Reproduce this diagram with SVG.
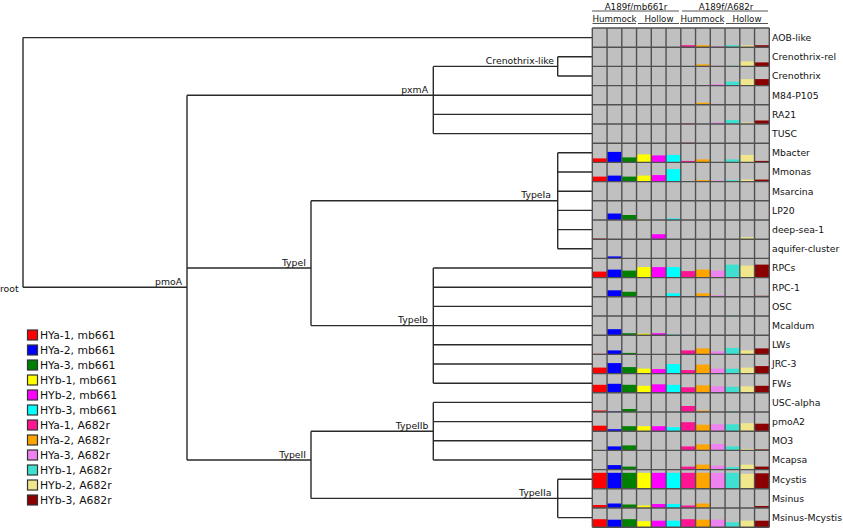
<svg xmlns="http://www.w3.org/2000/svg" width="843" height="528" viewBox="0 0 843 528">
<style>
text{font-family:"DejaVu Sans",sans-serif;fill:#111}
.lab{font-size:9.3px}
.hdr{font-size:8.7px;text-anchor:middle}
.nl{font-size:9.3px;text-anchor:end}
.leg{font-size:10.8px}
.tree path{fill:none;stroke:#2a2a2a;stroke-width:1.4}
.hl{stroke:#555;stroke-width:1.2}
.grid line{stroke:#505050;stroke-width:1.4}
.legsq{stroke:#333;stroke-width:1.2}
.c1{fill:#ff0000}.c2{fill:#0000ff}.c3{fill:#008000}.c4{fill:#ffff00}.c5{fill:#ff00ff}.c6{fill:#00ffff}
.c7{fill:#ff1493}.c8{fill:#ffa500}.c9{fill:#ee82ee}.c10{fill:#40e0d0}.c11{fill:#f0e68c}.c12{fill:#8b0000}
</style>

<g id="header">
<text class="hdr" x="636" y="9.5">A189f/mb661r</text>
<text class="hdr" x="726" y="9.5">A189f/A682r</text>
<line class="hl" x1="592" y1="11" x2="679" y2="11"/>
<line class="hl" x1="682" y1="11" x2="768" y2="11"/>
<text class="hdr" x="614.5" y="21.5">Hummock</text>
<text class="hdr" x="659" y="21.5">Hollow</text>
<text class="hdr" x="702.5" y="21.5">Hummock</text>
<text class="hdr" x="747" y="21.5">Hollow</text>
<line class="hl" x1="592.5" y1="23.5" x2="636" y2="23.5"/>
<line class="hl" x1="638" y1="23.5" x2="679" y2="23.5"/>
<line class="hl" x1="680" y1="23.5" x2="724" y2="23.5"/>
<line class="hl" x1="726" y1="23.5" x2="768" y2="23.5"/>
</g>

<g id="connectors" class="tree">
<path d="M23,37.6V287.2M23,37.6H592.3M23,287.2H187"/>
<path d="M187,95.2V460M187,95.2H433.3M187,268H311M187,460H311"/>
<path d="M433.3,66.4V133.6M433.3,66.4H557.7M433.3,95.2H592.3M433.3,114.4H592.3M433.3,133.6H592.3"/>
<path d="M557.7,56.8V76M557.7,56.8H592.3M557.7,76H592.3"/>
<path d="M311,200.8V325.6M311,200.8H557.7M311,325.6H433.3"/>
<path d="M557.7,152.8V248.8M557.7,152.8H592.3M557.7,172H592.3M557.7,191.2H592.3M557.7,210.4H592.3M557.7,229.6H592.3M557.7,248.8H592.3"/>
<path d="M433.3,268V383.2M433.3,268H592.3M433.3,287.2H592.3M433.3,306.4H592.3M433.3,325.6H592.3M433.3,344.8H592.3M433.3,364H592.3M433.3,383.2H592.3"/>
<path d="M311,431.2V498.4M311,431.2H433.3M311,498.4H557.7"/>
<path d="M433.3,402.4V460M433.3,402.4H592.3M433.3,421.6H592.3M433.3,440.8H592.3M433.3,460H592.3"/>
<path d="M557.7,479.2V517.6M557.7,479.2H592.3M557.7,498.4H592.3M557.7,517.6H592.3"/>
</g>

<g id="internal-nodes">
<g id="n-root"><text class="lab" x="0" y="291.5">root</text></g>
<g id="n-pmoA"><text class="nl" x="182" y="284.5">pmoA</text></g>
<g id="n-pxmA"><text class="nl" x="428" y="92.8">pxmA</text></g>
<g id="n-crenolike"><text class="nl" x="554" y="64">Crenothrix-like</text></g>
<g id="n-TypeI"><text class="nl" x="306" y="265.5">TypeI</text></g>
<g id="n-TypeIa"><text class="nl" x="551" y="198.3">TypeIa</text></g>
<g id="n-TypeIb"><text class="nl" x="428" y="323">TypeIb</text></g>
<g id="n-TypeII"><text class="nl" x="306" y="457.5">TypeII</text></g>
<g id="n-TypeIIb"><text class="nl" x="428.5" y="428.5">TypeIIb</text></g>
<g id="n-TypeIIa"><text class="nl" x="551.5" y="495.5">TypeIIa</text></g>
</g>

<g id="heatmap">
<rect x="592.3" y="28" width="177" height="499.2" fill="#c0c0c0"/>
<g id="bars">
<rect class="c7" x="680.8" y="45.2" width="14.75" height="2"/><rect class="c8" x="695.55" y="45.2" width="14.75" height="2"/><rect class="c9" x="710.3" y="46.2" width="14.75" height="1"/><rect class="c10" x="725.05" y="45.2" width="14.75" height="2"/><rect class="c11" x="739.8" y="45.4" width="14.75" height="1.8"/><rect class="c12" x="754.55" y="45.2" width="14.75" height="2"/>
<rect class="c8" x="695.55" y="64.4" width="14.75" height="2"/><rect class="c9" x="710.3" y="65.8" width="14.75" height="0.6"/><rect class="c10" x="725.05" y="65.8" width="14.75" height="0.6"/><rect class="c11" x="739.8" y="61.4" width="14.75" height="5"/><rect class="c12" x="754.55" y="62.4" width="14.75" height="4"/>
<rect class="c7" x="680.8" y="85" width="14.75" height="0.6"/><rect class="c9" x="710.3" y="84.1" width="14.75" height="1.5"/><rect class="c10" x="725.05" y="81.6" width="14.75" height="4"/><rect class="c11" x="739.8" y="79.1" width="14.75" height="6.5"/><rect class="c12" x="754.55" y="79.1" width="14.75" height="6.5"/>
<rect class="c7" x="680.8" y="104.2" width="14.75" height="0.6"/><rect class="c8" x="695.55" y="102.8" width="14.75" height="2"/><rect class="c9" x="710.3" y="103.8" width="14.75" height="1"/>
<rect class="c7" x="680.8" y="123.4" width="14.75" height="0.6"/><rect class="c9" x="710.3" y="122.5" width="14.75" height="1.5"/><rect class="c10" x="725.05" y="120" width="14.75" height="4"/><rect class="c11" x="739.8" y="122.5" width="14.75" height="1.5"/><rect class="c12" x="754.55" y="120.5" width="14.75" height="3.5"/>
<rect class="c7" x="680.8" y="142.6" width="14.75" height="0.6"/>
<rect class="c1" x="592.3" y="158.4" width="14.75" height="4"/><rect class="c2" x="607.05" y="151.9" width="14.75" height="10.5"/><rect class="c3" x="621.8" y="157.4" width="14.75" height="5"/><rect class="c4" x="636.55" y="154.4" width="14.75" height="8"/><rect class="c5" x="651.3" y="155.4" width="14.75" height="7"/><rect class="c6" x="666.05" y="154.9" width="14.75" height="7.5"/><rect class="c7" x="680.8" y="160.9" width="14.75" height="1.5"/><rect class="c8" x="695.55" y="159.4" width="14.75" height="3"/><rect class="c10" x="725.05" y="159.4" width="14.75" height="3"/><rect class="c11" x="739.8" y="154.9" width="14.75" height="7.5"/><rect class="c12" x="754.55" y="160.9" width="14.75" height="1.5"/>
<rect class="c1" x="592.3" y="176.6" width="14.75" height="5"/><rect class="c2" x="607.05" y="175.6" width="14.75" height="6"/><rect class="c3" x="621.8" y="176.6" width="14.75" height="5"/><rect class="c4" x="636.55" y="175.6" width="14.75" height="6"/><rect class="c5" x="651.3" y="175.1" width="14.75" height="6.5"/><rect class="c6" x="666.05" y="169.1" width="14.75" height="12.5"/><rect class="c7" x="680.8" y="181" width="14.75" height="0.6"/><rect class="c8" x="695.55" y="180.1" width="14.75" height="1.5"/><rect class="c9" x="710.3" y="180.6" width="14.75" height="1"/><rect class="c10" x="725.05" y="180.1" width="14.75" height="1.5"/><rect class="c11" x="739.8" y="179.6" width="14.75" height="2"/><rect class="c12" x="754.55" y="179.6" width="14.75" height="2"/>
<rect class="c2" x="607.05" y="200.2" width="14.75" height="0.6"/><rect class="c3" x="621.8" y="200.2" width="14.75" height="0.6"/><rect class="c6" x="666.05" y="200.2" width="14.75" height="0.6"/>
<rect class="c2" x="607.05" y="213.5" width="14.75" height="6.5"/><rect class="c3" x="621.8" y="215" width="14.75" height="5"/><rect class="c4" x="636.55" y="219.4" width="14.75" height="0.6"/><rect class="c6" x="666.05" y="218.5" width="14.75" height="1.5"/>
<rect class="c1" x="592.3" y="238.6" width="14.75" height="0.6"/><rect class="c5" x="651.3" y="234.2" width="14.75" height="5"/><rect class="c11" x="739.8" y="237.2" width="14.75" height="2"/>
<rect class="c2" x="607.05" y="256.4" width="14.75" height="2"/>
<rect class="c1" x="592.3" y="271.6" width="14.75" height="6"/><rect class="c2" x="607.05" y="269.6" width="14.75" height="8"/><rect class="c3" x="621.8" y="270.6" width="14.75" height="7"/><rect class="c4" x="636.55" y="267.1" width="14.75" height="10.5"/><rect class="c5" x="651.3" y="267.1" width="14.75" height="10.5"/><rect class="c6" x="666.05" y="267.1" width="14.75" height="10.5"/><rect class="c7" x="680.8" y="271.1" width="14.75" height="6.5"/><rect class="c8" x="695.55" y="269.6" width="14.75" height="8"/><rect class="c9" x="710.3" y="270.6" width="14.75" height="7"/><rect class="c10" x="725.05" y="264.6" width="14.75" height="13"/><rect class="c11" x="739.8" y="265.6" width="14.75" height="12"/><rect class="c12" x="754.55" y="264.6" width="14.75" height="13"/>
<rect class="c1" x="592.3" y="296.2" width="14.75" height="0.6"/><rect class="c2" x="607.05" y="290.3" width="14.75" height="6.5"/><rect class="c3" x="621.8" y="291.8" width="14.75" height="5"/><rect class="c6" x="666.05" y="293.3" width="14.75" height="3.5"/><rect class="c8" x="695.55" y="293.3" width="14.75" height="3.5"/><rect class="c9" x="710.3" y="295.3" width="14.75" height="1.5"/><rect class="c12" x="754.55" y="295.8" width="14.75" height="1"/>
<rect class="c10" x="725.05" y="315.4" width="14.75" height="0.6"/>
<rect class="c2" x="607.05" y="329.2" width="14.75" height="6"/><rect class="c3" x="621.8" y="333.2" width="14.75" height="2"/><rect class="c4" x="636.55" y="333.7" width="14.75" height="1.5"/><rect class="c5" x="651.3" y="333.2" width="14.75" height="2"/><rect class="c6" x="666.05" y="334.6" width="14.75" height="0.6"/>
<rect class="c1" x="592.3" y="353.8" width="14.75" height="0.6"/><rect class="c2" x="607.05" y="350.4" width="14.75" height="4"/><rect class="c3" x="621.8" y="352.9" width="14.75" height="1.5"/><rect class="c7" x="680.8" y="350.4" width="14.75" height="4"/><rect class="c8" x="695.55" y="348.4" width="14.75" height="6"/><rect class="c9" x="710.3" y="351.4" width="14.75" height="3"/><rect class="c10" x="725.05" y="347.9" width="14.75" height="6.5"/><rect class="c11" x="739.8" y="350.4" width="14.75" height="4"/><rect class="c12" x="754.55" y="348.4" width="14.75" height="6"/>
<rect class="c1" x="592.3" y="367.6" width="14.75" height="6"/><rect class="c2" x="607.05" y="363.1" width="14.75" height="10.5"/><rect class="c3" x="621.8" y="367.1" width="14.75" height="6.5"/><rect class="c4" x="636.55" y="368.6" width="14.75" height="5"/><rect class="c5" x="651.3" y="369.1" width="14.75" height="4.5"/><rect class="c6" x="666.05" y="364.1" width="14.75" height="9.5"/><rect class="c7" x="680.8" y="370.1" width="14.75" height="3.5"/><rect class="c8" x="695.55" y="364.6" width="14.75" height="9"/><rect class="c9" x="710.3" y="368.6" width="14.75" height="5"/><rect class="c10" x="725.05" y="368.6" width="14.75" height="5"/><rect class="c11" x="739.8" y="367.6" width="14.75" height="6"/><rect class="c12" x="754.55" y="366.1" width="14.75" height="7.5"/>
<rect class="c1" x="592.3" y="384.8" width="14.75" height="8"/><rect class="c2" x="607.05" y="383.8" width="14.75" height="9"/><rect class="c3" x="621.8" y="384.8" width="14.75" height="8"/><rect class="c4" x="636.55" y="385.8" width="14.75" height="7"/><rect class="c5" x="651.3" y="384.3" width="14.75" height="8.5"/><rect class="c6" x="666.05" y="384.8" width="14.75" height="8"/><rect class="c7" x="680.8" y="387.3" width="14.75" height="5.5"/><rect class="c8" x="695.55" y="385.3" width="14.75" height="7.5"/><rect class="c9" x="710.3" y="386.3" width="14.75" height="6.5"/><rect class="c10" x="725.05" y="386.8" width="14.75" height="6"/><rect class="c11" x="739.8" y="386.3" width="14.75" height="6.5"/><rect class="c12" x="754.55" y="385.8" width="14.75" height="7"/>
<rect class="c1" x="592.3" y="410.5" width="14.75" height="1.5"/><rect class="c2" x="607.05" y="411.4" width="14.75" height="0.6"/><rect class="c3" x="621.8" y="409" width="14.75" height="3"/><rect class="c7" x="680.8" y="406" width="14.75" height="6"/><rect class="c8" x="695.55" y="410.5" width="14.75" height="1.5"/><rect class="c9" x="710.3" y="411.4" width="14.75" height="0.6"/><rect class="c10" x="725.05" y="411.4" width="14.75" height="0.6"/>
<rect class="c1" x="592.3" y="425.7" width="14.75" height="5.5"/><rect class="c2" x="607.05" y="429.2" width="14.75" height="2"/><rect class="c3" x="621.8" y="426.2" width="14.75" height="5"/><rect class="c4" x="636.55" y="426.2" width="14.75" height="5"/><rect class="c5" x="651.3" y="426.2" width="14.75" height="5"/><rect class="c6" x="666.05" y="427.2" width="14.75" height="4"/><rect class="c7" x="680.8" y="422.2" width="14.75" height="9"/><rect class="c8" x="695.55" y="424.7" width="14.75" height="6.5"/><rect class="c9" x="710.3" y="424.2" width="14.75" height="7"/><rect class="c10" x="725.05" y="424.2" width="14.75" height="7"/><rect class="c11" x="739.8" y="423.2" width="14.75" height="8"/><rect class="c12" x="754.55" y="423.7" width="14.75" height="7.5"/>
<rect class="c2" x="607.05" y="446.4" width="14.75" height="4"/><rect class="c3" x="621.8" y="445.4" width="14.75" height="5"/><rect class="c7" x="680.8" y="446.4" width="14.75" height="4"/><rect class="c8" x="695.55" y="444.4" width="14.75" height="6"/><rect class="c9" x="710.3" y="443.9" width="14.75" height="6.5"/><rect class="c10" x="725.05" y="446.4" width="14.75" height="4"/><rect class="c11" x="739.8" y="448.9" width="14.75" height="1.5"/><rect class="c12" x="754.55" y="449.4" width="14.75" height="1"/>
<rect class="c1" x="592.3" y="469" width="14.75" height="0.6"/><rect class="c2" x="607.05" y="465.1" width="14.75" height="4.5"/><rect class="c3" x="621.8" y="466.6" width="14.75" height="3"/><rect class="c7" x="680.8" y="466.6" width="14.75" height="3"/><rect class="c8" x="695.55" y="464.6" width="14.75" height="5"/><rect class="c9" x="710.3" y="465.6" width="14.75" height="4"/><rect class="c10" x="725.05" y="467.1" width="14.75" height="2.5"/><rect class="c11" x="739.8" y="464.6" width="14.75" height="5"/><rect class="c12" x="754.55" y="466.6" width="14.75" height="3"/>
<rect class="c1" x="592.3" y="472.8" width="14.75" height="16"/><rect class="c2" x="607.05" y="472.8" width="14.75" height="16"/><rect class="c3" x="621.8" y="472.8" width="14.75" height="16"/><rect class="c4" x="636.55" y="472.8" width="14.75" height="16"/><rect class="c5" x="651.3" y="472.8" width="14.75" height="16"/><rect class="c6" x="666.05" y="472.8" width="14.75" height="16"/><rect class="c7" x="680.8" y="472.8" width="14.75" height="16"/><rect class="c8" x="695.55" y="472.8" width="14.75" height="16"/><rect class="c9" x="710.3" y="472.8" width="14.75" height="16"/><rect class="c10" x="725.05" y="472.8" width="14.75" height="16"/><rect class="c11" x="739.8" y="473.8" width="14.75" height="15"/><rect class="c12" x="754.55" y="473.3" width="14.75" height="15.5"/>
<rect class="c1" x="592.3" y="505" width="14.75" height="3"/><rect class="c2" x="607.05" y="503.5" width="14.75" height="4.5"/><rect class="c3" x="621.8" y="504.5" width="14.75" height="3.5"/><rect class="c4" x="636.55" y="505.5" width="14.75" height="2.5"/><rect class="c5" x="651.3" y="504" width="14.75" height="4"/><rect class="c6" x="666.05" y="504" width="14.75" height="4"/><rect class="c7" x="680.8" y="505.5" width="14.75" height="2.5"/><rect class="c8" x="695.55" y="503.5" width="14.75" height="4.5"/><rect class="c12" x="754.55" y="506" width="14.75" height="2"/>
<rect class="c1" x="592.3" y="519.2" width="14.75" height="8"/><rect class="c2" x="607.05" y="519.7" width="14.75" height="7.5"/><rect class="c3" x="621.8" y="519.2" width="14.75" height="8"/><rect class="c4" x="636.55" y="521.2" width="14.75" height="6"/><rect class="c5" x="651.3" y="520.7" width="14.75" height="6.5"/><rect class="c6" x="666.05" y="520.7" width="14.75" height="6.5"/><rect class="c7" x="680.8" y="519.2" width="14.75" height="8"/><rect class="c8" x="695.55" y="519.7" width="14.75" height="7.5"/><rect class="c9" x="710.3" y="519.7" width="14.75" height="7.5"/><rect class="c10" x="725.05" y="522.2" width="14.75" height="5"/><rect class="c11" x="739.8" y="520.7" width="14.75" height="6.5"/><rect class="c12" x="754.55" y="520.7" width="14.75" height="6.5"/>
</g>
<g class="grid">
<line x1="592.3" y1="28" x2="592.3" y2="527.2"/><line x1="607.05" y1="28" x2="607.05" y2="527.2"/><line x1="621.8" y1="28" x2="621.8" y2="527.2"/><line x1="636.55" y1="28" x2="636.55" y2="527.2"/><line x1="651.3" y1="28" x2="651.3" y2="527.2"/><line x1="666.05" y1="28" x2="666.05" y2="527.2"/><line x1="680.8" y1="28" x2="680.8" y2="527.2"/><line x1="695.55" y1="28" x2="695.55" y2="527.2"/><line x1="710.3" y1="28" x2="710.3" y2="527.2"/><line x1="725.05" y1="28" x2="725.05" y2="527.2"/><line x1="739.8" y1="28" x2="739.8" y2="527.2"/><line x1="754.55" y1="28" x2="754.55" y2="527.2"/><line x1="769.3" y1="28" x2="769.3" y2="527.2"/>
<line x1="592.3" y1="28" x2="769.3" y2="28"/><line x1="592.3" y1="47.2" x2="769.3" y2="47.2"/><line x1="592.3" y1="66.4" x2="769.3" y2="66.4"/><line x1="592.3" y1="85.6" x2="769.3" y2="85.6"/><line x1="592.3" y1="104.8" x2="769.3" y2="104.8"/><line x1="592.3" y1="124" x2="769.3" y2="124"/><line x1="592.3" y1="143.2" x2="769.3" y2="143.2"/><line x1="592.3" y1="162.4" x2="769.3" y2="162.4"/><line x1="592.3" y1="181.6" x2="769.3" y2="181.6"/><line x1="592.3" y1="200.8" x2="769.3" y2="200.8"/><line x1="592.3" y1="220" x2="769.3" y2="220"/><line x1="592.3" y1="239.2" x2="769.3" y2="239.2"/><line x1="592.3" y1="258.4" x2="769.3" y2="258.4"/><line x1="592.3" y1="277.6" x2="769.3" y2="277.6"/><line x1="592.3" y1="296.8" x2="769.3" y2="296.8"/><line x1="592.3" y1="316" x2="769.3" y2="316"/><line x1="592.3" y1="335.2" x2="769.3" y2="335.2"/><line x1="592.3" y1="354.4" x2="769.3" y2="354.4"/><line x1="592.3" y1="373.6" x2="769.3" y2="373.6"/><line x1="592.3" y1="392.8" x2="769.3" y2="392.8"/><line x1="592.3" y1="412" x2="769.3" y2="412"/><line x1="592.3" y1="431.2" x2="769.3" y2="431.2"/><line x1="592.3" y1="450.4" x2="769.3" y2="450.4"/><line x1="592.3" y1="469.6" x2="769.3" y2="469.6"/><line x1="592.3" y1="488.8" x2="769.3" y2="488.8"/><line x1="592.3" y1="508" x2="769.3" y2="508"/><line x1="592.3" y1="527.2" x2="769.3" y2="527.2"/>
</g>
</g>

<g id="leaves">
<g id="leaf-AOB-like"><text class="lab" x="772" y="41">AOB-like</text></g>
<g id="leaf-Crenothrix-rel"><text class="lab" x="772" y="60.2">Crenothrix-rel</text></g>
<g id="leaf-Crenothrix"><text class="lab" x="772" y="79.4">Crenothrix</text></g>
<g id="leaf-M84-P105"><text class="lab" x="772" y="98.6">M84-P105</text></g>
<g id="leaf-RA21"><text class="lab" x="772" y="117.8">RA21</text></g>
<g id="leaf-TUSC"><text class="lab" x="772" y="137">TUSC</text></g>
<g id="leaf-Mbacter"><text class="lab" x="772" y="156.2">Mbacter</text></g>
<g id="leaf-Mmonas"><text class="lab" x="772" y="175.4">Mmonas</text></g>
<g id="leaf-Msarcina"><text class="lab" x="772" y="194.6">Msarcina</text></g>
<g id="leaf-LP20"><text class="lab" x="772" y="213.8">LP20</text></g>
<g id="leaf-deep-sea-1"><text class="lab" x="772" y="233">deep-sea-1</text></g>
<g id="leaf-aquifer-cluster"><text class="lab" x="772" y="252.2">aquifer-cluster</text></g>
<g id="leaf-RPCs"><text class="lab" x="772" y="271.4">RPCs</text></g>
<g id="leaf-RPC-1"><text class="lab" x="772" y="290.6">RPC-1</text></g>
<g id="leaf-OSC"><text class="lab" x="772" y="309.8">OSC</text></g>
<g id="leaf-Mcaldum"><text class="lab" x="772" y="329">Mcaldum</text></g>
<g id="leaf-LWs"><text class="lab" x="772" y="348.2">LWs</text></g>
<g id="leaf-JRC-3"><text class="lab" x="772" y="367.4">JRC-3</text></g>
<g id="leaf-FWs"><text class="lab" x="772" y="386.6">FWs</text></g>
<g id="leaf-USC-alpha"><text class="lab" x="772" y="405.8">USC-alpha</text></g>
<g id="leaf-pmoA2"><text class="lab" x="772" y="425">pmoA2</text></g>
<g id="leaf-MO3"><text class="lab" x="772" y="444.2">MO3</text></g>
<g id="leaf-Mcapsa"><text class="lab" x="772" y="463.4">Mcapsa</text></g>
<g id="leaf-Mcystis"><text class="lab" x="772" y="482.6">Mcystis</text></g>
<g id="leaf-Msinus"><text class="lab" x="772" y="501.8">Msinus</text></g>
<g id="leaf-Msinus-Mcystis"><text class="lab" x="772" y="521">Msinus-Mcystis</text></g>
</g>

<g id="legend">
<rect class="legsq c1" x="27.5" y="330" width="10" height="10"/><text class="leg" x="40" y="339">HYa-1, mb661</text>
<rect class="legsq c2" x="27.5" y="345" width="10" height="10"/><text class="leg" x="40" y="354">HYa-2, mb661</text>
<rect class="legsq c3" x="27.5" y="360" width="10" height="10"/><text class="leg" x="40" y="369">HYa-3, mb661</text>
<rect class="legsq c4" x="27.5" y="375" width="10" height="10"/><text class="leg" x="40" y="384">HYb-1, mb661</text>
<rect class="legsq c5" x="27.5" y="390" width="10" height="10"/><text class="leg" x="40" y="399">HYb-2, mb661</text>
<rect class="legsq c6" x="27.5" y="405" width="10" height="10"/><text class="leg" x="40" y="414">HYb-3, mb661</text>
<rect class="legsq c7" x="27.5" y="420" width="10" height="10"/><text class="leg" x="40" y="429">HYa-1, A682r</text>
<rect class="legsq c8" x="27.5" y="435" width="10" height="10"/><text class="leg" x="40" y="444">HYa-2, A682r</text>
<rect class="legsq c9" x="27.5" y="450" width="10" height="10"/><text class="leg" x="40" y="459">HYa-3, A682r</text>
<rect class="legsq c10" x="27.5" y="465" width="10" height="10"/><text class="leg" x="40" y="474">HYb-1, A682r</text>
<rect class="legsq c11" x="27.5" y="480" width="10" height="10"/><text class="leg" x="40" y="489">HYb-2, A682r</text>
<rect class="legsq c12" x="27.5" y="495" width="10" height="10"/><text class="leg" x="40" y="504">HYb-3, A682r</text>
</g>
</svg>
